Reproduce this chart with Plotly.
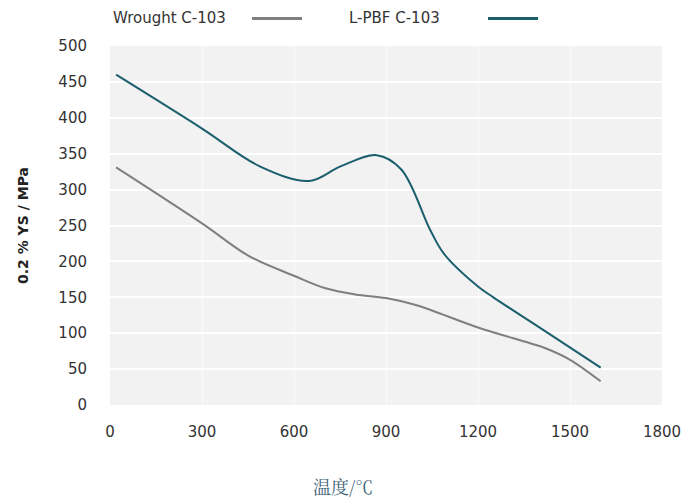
import plotly.graph_objects as go

# Data
temp_wrought = [20, 300, 455, 600, 700, 800, 900, 1000, 1200, 1370, 1420, 1500, 1600]
ys_wrought = [331, 253, 207, 180, 163, 154, 149, 139, 108, 86, 79, 63, 33]

temp_lpbf = [20, 300, 490, 650, 750, 870, 950, 1045, 1090, 1200, 1250, 1415, 1600]
ys_lpbf = [460, 385, 332, 312, 332, 348, 328, 243, 210, 165, 150, 104, 52]

x_ticks = [0, 300, 600, 900, 1200, 1500, 1800]
y_ticks = [0, 50, 100, 150, 200, 250, 300, 350, 400, 450, 500]

series_names = ["Wrought C-103", "L-PBF C-103"]
x_title = "温度/℃"
y_title = "0.2 % YS / MPa"
gray = "#7f7f7f"
teal = "#1b5e6e"

fig = go.Figure()
fig.add_trace(go.Scatter(x=temp_wrought, y=ys_wrought, mode="lines", name=series_names[0],
                         line=dict(color=gray, width=2, shape="spline", smoothing=1.0),
                         showlegend=False))
fig.add_trace(go.Scatter(x=temp_lpbf, y=ys_lpbf, mode="lines", name=series_names[1],
                         line=dict(color=teal, width=2, shape="spline", smoothing=1.0),
                         showlegend=False))

W, H = 686, 504
ml, mt, mr, mb = 110, 46, 24, 99
pw, ph = W - ml - mr, H - mt - mb

def px2paper_x(px):
    return (px - ml) / pw

def px2paper_y(py):
    return (H - mb - py) / ph

tick_font = dict(family="DejaVu Sans", size=15, color="#333333")

# custom legend (text then line sample)
legend_items = [
    (series_names[0], 113, 252, 302, gray),
    (series_names[1], 349, 488, 538, teal),
]
for name, tx, lx0, lx1, col in legend_items:
    fig.add_annotation(x=px2paper_x(tx), y=px2paper_y(18), xref="paper", yref="paper",
                       text=name, showarrow=False, xanchor="left", yanchor="middle",
                       xshift=-2, font=tick_font)
    fig.add_shape(type="line", xref="paper", yref="paper",
                  x0=px2paper_x(lx0), x1=px2paper_x(lx1), y0=px2paper_y(18.5), y1=px2paper_y(18.5),
                  line=dict(color=col, width=3))

# x-axis title as annotation
fig.add_annotation(x=px2paper_x(343), y=px2paper_y(486), xref="paper", yref="paper",
                   text=x_title, showarrow=False, xanchor="center", yanchor="middle",
                   font=dict(family="Noto Serif CJK SC, Noto Sans CJK SC", size=18, color="#3d6478"))

fig.update_layout(
    width=W, height=H,
    margin=dict(l=ml, r=mr, t=mt, b=mb, autoexpand=False),
    paper_bgcolor="white",
    plot_bgcolor="#f2f2f2",
    font=tick_font,
    xaxis=dict(range=[0, 1800], tickvals=x_ticks, ticktext=[str(v) for v in x_ticks],
               showgrid=True, gridcolor="#fafafa", gridwidth=1, zeroline=False,
               showline=False, ticks="", ticklabelstandoff=16, automargin=False,
               ticklabeloverflow="allow", tickfont=tick_font),
    yaxis=dict(range=[0, 500], tickvals=y_ticks, ticktext=[str(v) for v in y_ticks],
               showgrid=True, gridcolor="white", gridwidth=2, zeroline=False,
               showline=False, ticks="", ticklabelstandoff=22, automargin=False,
               tickfont=tick_font,
               title=dict(text="<b>" + y_title + "</b>", standoff=26,
                          font=dict(family="DejaVu Sans", size=14, color="#222222"))),
)

fig.write_html("out.html", config={"displayModeBar": False},
               post_script="document.body.style.margin='0';document.body.style.overflow='hidden';")
